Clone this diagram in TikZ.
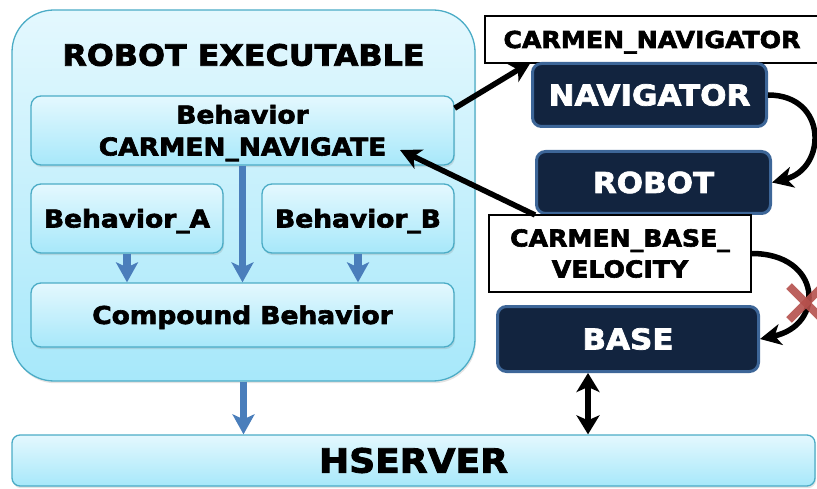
\documentclass[tikz,border=0pt]{standalone}
\usepackage{fontspec}
\setmainfont{DejaVu Sans}[FakeStretch=1.08, BoldFeatures={FakeBold=2.6}]
\usetikzlibrary{arrows.meta,shadows,calc}

\definecolor{skyedge}{HTML}{4BACC6}
\definecolor{skytop}{HTML}{E4F8FE}
\definecolor{skybot}{HTML}{A7E8FA}
\definecolor{navyfill}{HTML}{12243F}
\definecolor{navyedge}{HTML}{3D6698}
\definecolor{flowblue}{HTML}{4A7EBB}
\definecolor{crossred}{HTML}{B5504C}

\newcommand{\titlefont}{\bfseries\fontsize{29.4}{34}\selectfont}
\newcommand{\behfont}{\bfseries\fontsize{24.5}{32}\selectfont}
\newcommand{\darkfont}{\bfseries\fontsize{28.7}{34}\selectfont}
\newcommand{\labfont}{\bfseries\fontsize{23.3}{31}\selectfont}
\newcommand{\hsfont}{\bfseries\fontsize{33.4}{40}\selectfont}

\tikzset{
  skybox/.style={draw=skyedge, line width=1.3pt, top color=skytop, bottom color=skybot,
    rounded corners=10pt, inner sep=0pt, align=center,
    drop shadow={opacity=0.22, shadow xshift=1pt, shadow yshift=-2.2pt}},
  behtext/.style={font=\behfont, text height=17.9pt, text depth=0pt},
  behtwo/.style={font=\behfont, text height=49.9pt, text depth=0pt},
  darkbox/.style={draw=navyedge, line width=3pt, fill=navyfill, rounded corners=9pt,
    text=white, font=\darkfont, inner sep=0pt, text height=20.9pt, text depth=0pt},
  labelbox/.style={draw=black, line width=1.2pt, fill=white, font=\labfont,
    align=center, inner sep=0pt},
  flow/.style={draw=flowblue, line width=7.5pt, -{Stealth[length=20pt,width=22pt,inset=5pt]}},
  msg/.style={draw=black, line width=5.5pt, -{Stealth[length=21pt,width=21pt,inset=6pt]}},
  dbl/.style={draw=black, line width=5.5pt,
    {Stealth[length=19pt,width=23pt,inset=5pt]}-{Stealth[length=19pt,width=23pt,inset=5pt]}},
  cutmark/.style={draw=crossred, line width=8pt, opacity=0.9},
}

\begin{document}
\begin{tikzpicture}[x=1pt,y=-1pt]
\useasboundingbox (0,0) rectangle (817,489);

% executable container and its behaviours
\node[skybox, rounded corners=42pt, minimum width=463pt, minimum height=371pt] (exe) at (243.5,195.5) {};
\node[font=\titlefont, text height=21.4pt, text depth=0pt, inner sep=0pt] (title) at (243.5,55) {ROBOT EXECUTABLE};
\node[skybox, behtwo, minimum width=423pt, minimum height=69pt] (cmn) at (242.5,130.5) {Behavior\\CARMEN\_NAVIGATE};
\node[skybox, behtext, minimum width=192pt, minimum height=69pt] (ba) at (127,218.5) {Behavior\_A};
\node[skybox, behtext, minimum width=192pt, minimum height=69pt] (bb) at (358,218.5) {Behavior\_B};
\node[skybox, behtext, minimum width=423pt, minimum height=64pt] (comp) at (242.5,315) {Compound Behavior};

% hardware server bar
\node[skybox, rounded corners=8pt, font=\hsfont, text height=24.3pt, text depth=0pt,
      minimum width=803pt, minimum height=51pt] (hs) at (413.5,460.5) {HSERVER};

% CARMEN modules and message labels
\node[labelbox, text height=17pt, text depth=0pt, minimum width=334pt, minimum height=47pt] (cnav) at (652,39.5) {CARMEN\_NAVIGATOR};
\node[darkbox, minimum width=234pt, minimum height=63pt] (nav) at (649.5,95) {NAVIGATOR};
\node[darkbox, minimum width=234pt, minimum height=62pt] (rob) at (653.5,182.5) {ROBOT};
\node[labelbox, text height=48pt, text depth=0pt, minimum width=262pt, minimum height=77pt] (cbv) at (620,253.5) {CARMEN\_BASE\_\\VELOCITY};
\node[darkbox, minimum width=261pt, minimum height=65pt] (base) at (628,339) {BASE};

% flow inside the executable
\draw[flow] (cmn.south) -- (cmn.south |- comp.north);
\draw[flow] (ba.south) -- (ba.south |- comp.north);
\draw[flow] (bb.south) -- (bb.south |- comp.north);
\draw[flow] (exe.south) -- (exe.south |- hs.north);

% messages between behaviour and modules
\draw[msg] (cmn.6) -- (nav.north west);
\coordinate (navtip) at ($(cmn.center)+(157.5,19.5)$);
\draw[msg] (rob.south west) -- (navtip);
\draw[msg] (nav.east) .. controls +(60,0) and +(55,-14) .. (rob.east);
\draw[msg] (cbv.east) .. controls +(70,0) and +(66,-14) .. (base.east);

% blocked velocity message
\coordinate (cut) at (806,303);
\draw[cutmark] ($(cut)+(-17,-17)$) -- ($(cut)+(17,17)$);
\draw[cutmark] ($(cut)+(-17,17)$) -- ($(cut)+(17,-17)$);

% base <-> hserver link
\coordinate (blink) at ($(base.south)+(-40,0)$);
\draw[dbl] (blink) -- (blink |- hs.north);
\end{tikzpicture}
\end{document}
